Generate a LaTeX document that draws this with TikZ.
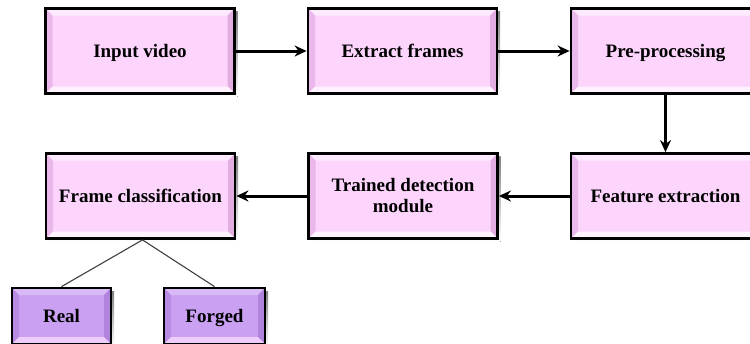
\documentclass[tikz,border=0pt]{standalone}
\usepackage{fontspec}
\setmainfont{Liberation Serif}[BoldFont={Liberation Serif Bold}]
\usetikzlibrary{arrows.meta}
\definecolor{pinkfill}{RGB}{252,212,252}
\definecolor{pinktop}{RGB}{254,234,254}
\definecolor{pinkleft}{RGB}{234,184,234}
\definecolor{pinkright}{RGB}{226,174,226}
\definecolor{pinkbot}{RGB}{255,242,255}
\definecolor{purpfill}{RGB}{201,160,242}
\definecolor{purptop}{RGB}{216,186,246}
\definecolor{purpleft}{RGB}{184,140,226}
\definecolor{purpright}{RGB}{176,132,220}
\definecolor{purpbot}{RGB}{238,204,252}
\definecolor{shade}{RGB}{215,225,235}
\tikzset{
  x=1pt, y=-1pt,
  bevel/.style n args={5}{
    fill=#1, draw=black, line width=2.8pt,
    path picture={
      \def\bw{7pt}
      \coordinate (nw) at (path picture bounding box.north west);
      \coordinate (ne) at (path picture bounding box.north east);
      \coordinate (sw) at (path picture bounding box.south west);
      \coordinate (se) at (path picture bounding box.south east);
      \fill[#2] (nw) -- (ne) -- ([shift={(-\bw,-\bw)}]ne) -- ([shift={(\bw,-\bw)}]nw) -- cycle;
      \fill[#3] (nw) -- (sw) -- ([shift={(\bw,\bw)}]sw) -- ([shift={(\bw,-\bw)}]nw) -- cycle;
      \fill[#4] (ne) -- (se) -- ([shift={(-\bw,\bw)}]se) -- ([shift={(-\bw,-\bw)}]ne) -- cycle;
      \fill[#5] (sw) -- (se) -- ([shift={(-\bw,\bw)}]se) -- ([shift={(\bw,\bw)}]sw) -- cycle;
    }
  },
  stagebox/.style={
    bevel={pinkfill}{pinktop}{pinkleft}{pinkright}{pinkbot},
    minimum width=189pt, minimum height=85pt, inner sep=0pt,
    text height=13pt, text depth=1pt,
    align=center, font=\fontsize{19}{21}\selectfont\bfseries
  },
  outbox/.style={
    bevel={purpfill}{purptop}{purpleft}{purpright}{purpbot},
    minimum width=99pt, minimum height=56pt, inner sep=0pt,
    text height=13pt, text depth=1pt,
    font=\fontsize{19}{21}\selectfont\bfseries
  },
  flow/.style={line width=3pt, -{Stealth[length=12pt,width=11pt]}},
  branch/.style={line width=1.1pt, draw=black!75}
}
\begin{document}
\begin{tikzpicture}
\path[use as bounding box, clip] (0,0) rectangle (750,343);
\fill[white] (0,0) rectangle (750,343);

% soft shadows under the boxes
\foreach \cx/\cy/\w/\h in {140/51/189/85, 402.5/51/189/85, 665.5/51/189/85,
                           140.5/196/189/85, 403/196/189/85, 665.5/196/189/85,
                           61.5/316/99/56, 214.5/316/101/56}
  \fill[shade] (\cx-\w/2+3,\cy-\h/2+3) rectangle (\cx+\w/2+3,\cy+\h/2+3);

% first row
\node[stagebox] (input)   at (140,51)    {Input video};
\node[stagebox] (extract) at (402.5,51)  {Extract frames};
\node[stagebox] (pre)     at (665.5,51)  {Pre-processing};

% second row
\node[stagebox] (feat)    at (665.5,196) {Feature extraction};
\node[stagebox, text height=34pt] (trained) at (403,196) {Trained detection\\module};
\node[stagebox] (frame)   at (140.5,196) {Frame classification};

% outcomes
\node[outbox] (real)   at (61.5,316)  {Real};
\node[outbox, minimum width=101pt] (forged) at (214.5,316) {Forged};

% flow arrows
\draw[flow] (input) -- (extract);
\draw[flow] (extract) -- (pre);
\draw[flow] (pre) -- (feat);
\draw[flow] (feat) -- (trained);
\draw[flow] (trained) -- (frame);

% classification branches
\coordinate (split) at ([xshift=2pt]frame.south);
\draw[branch] (split) -- (real.north);
\draw[branch] (split) -- (forged.north);
\end{tikzpicture}
\end{document}
